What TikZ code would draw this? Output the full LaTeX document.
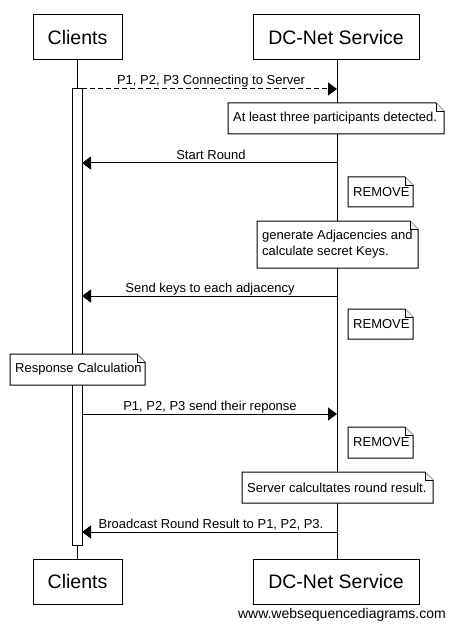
\documentclass[tikz,border=0pt]{standalone}
\usepackage{fontspec}
\setmainfont{Liberation Sans}
\usetikzlibrary{arrows.meta}
\newcommand\wsdnote[5]{%
  \coordinate (#1) at (#2,#3);
  \draw[notebox] (#2,#3) -- (#4-8,#3) -- (#4,#3+8) -- (#4,#5) -- (#2,#5) -- cycle;
  \draw[notefold] (#4-8,#3) -- (#4-8,#3+8) -- (#4,#3+8);}
\begin{document}
\begin{tikzpicture}[x=1pt,y=-1pt,
  actor/.style={draw,line width=1pt,fill=white,minimum height=45pt,inner sep=0pt,
    font=\fontsize{19.5}{22}\selectfont},
  lifeline/.style={line width=1pt},
  msg/.style={line width=1pt,-{Triangle[length=9pt,width=13pt]}},
  replymsg/.style={msg,dash pattern=on 5pt off 3pt},
  lbl/.style={font=\fontsize{13}{15}\selectfont,anchor=base,inner sep=0pt},
  notebox/.style={draw,line width=1pt,fill=white},
  notefold/.style={draw,line width=0.6pt,fill=gray!15},
  notetext/.style={font=\fontsize{13}{16}\selectfont,anchor=west,inner sep=0pt,align=left},
  activation/.style={draw,line width=1pt,fill=white}]
\useasboundingbox (0,0) rectangle (455,628);
\fill[white] (0,0) rectangle (455,628);
% lifelines
\node[actor,minimum width=89pt] (cT) at (77.5,37.5) {Clients};
\node[actor,minimum width=166pt] (dT) at (336,37.5) {DC-Net Service};
\node[actor,minimum width=89pt] (cB) at (77.5,581.5) {Clients};
\node[actor,minimum width=166pt] (dB) at (336,581.5) {DC-Net Service};
\coordinate (cl1) at (77,60); \coordinate (cl2) at (77,559);
\coordinate (dl1) at (337,60); \coordinate (dl2) at (337,559);
\draw[lifeline] (cl1) -- (cl2);
\draw[lifeline] (dl1) -- (dl2);
% activation bar
\draw[activation] (72,89) rectangle (82,545);
% message end points
\coordinate (a1s) at (82,89);  \coordinate (a1e) at (337,89);
\coordinate (a2s) at (337,163); \coordinate (a2e) at (82,163);
\coordinate (a3s) at (337,296); \coordinate (a3e) at (82,296);
\coordinate (a4s) at (82,414);  \coordinate (a4e) at (337,414);
\coordinate (a5s) at (337,532); \coordinate (a5e) at (82,532);
\draw[replymsg] (a1s) -- (a1e);
\draw[msg] (a2s) -- (a2e);
\draw[msg] (a3s) -- (a3e);
\draw[msg] (a4s) -- (a4e);
\draw[msg] (a5s) -- (a5e);
\node[lbl] (l1) at (211,85) {P1, P2, P3 Connecting to Server};
\node[lbl] (l2) at (211,159.5) {Start Round};
\node[lbl] (l3) at (210,292.5) {Send keys to each adjacency};
\node[lbl] (l4) at (210,410.5) {P1, P2, P3 send their reponse};
\node[lbl] (l5) at (211,528.5) {Broadcast Round Result to P1, P2, P3.};
% notes
\wsdnote{n1}{228}{103}{444}{134}
\node[notetext] (t1) at (233,118.5) {At least three participants detected.};
\wsdnote{n2}{348}{177}{413}{207}
\node[notetext] (t2) at (353,192) {REMOVE};
\wsdnote{n3}{257}{221}{418}{268}
\node[notetext] (t3) at (262,244.5) {generate Adjacencies and\\calculate secret Keys.};
\wsdnote{n4}{348}{309}{413}{339}
\node[notetext] (t4) at (353,324) {REMOVE};
\wsdnote{n5}{10}{354}{145}{385}
\node[notetext] (t5) at (15,369.5) {Response Calculation};
\wsdnote{n6}{348}{427}{413}{458}
\node[notetext] (t6) at (353,442.5) {REMOVE};
\wsdnote{n7}{242}{472}{433}{503}
\node[notetext] (t7) at (247,487.5) {Server calcultates round result.};
% watermark
\node[font=\fontsize{14}{16}\selectfont,anchor=base east,inner sep=0pt] (wm) at (446,618) {www.websequencediagrams.com};
\end{tikzpicture}
\end{document}
